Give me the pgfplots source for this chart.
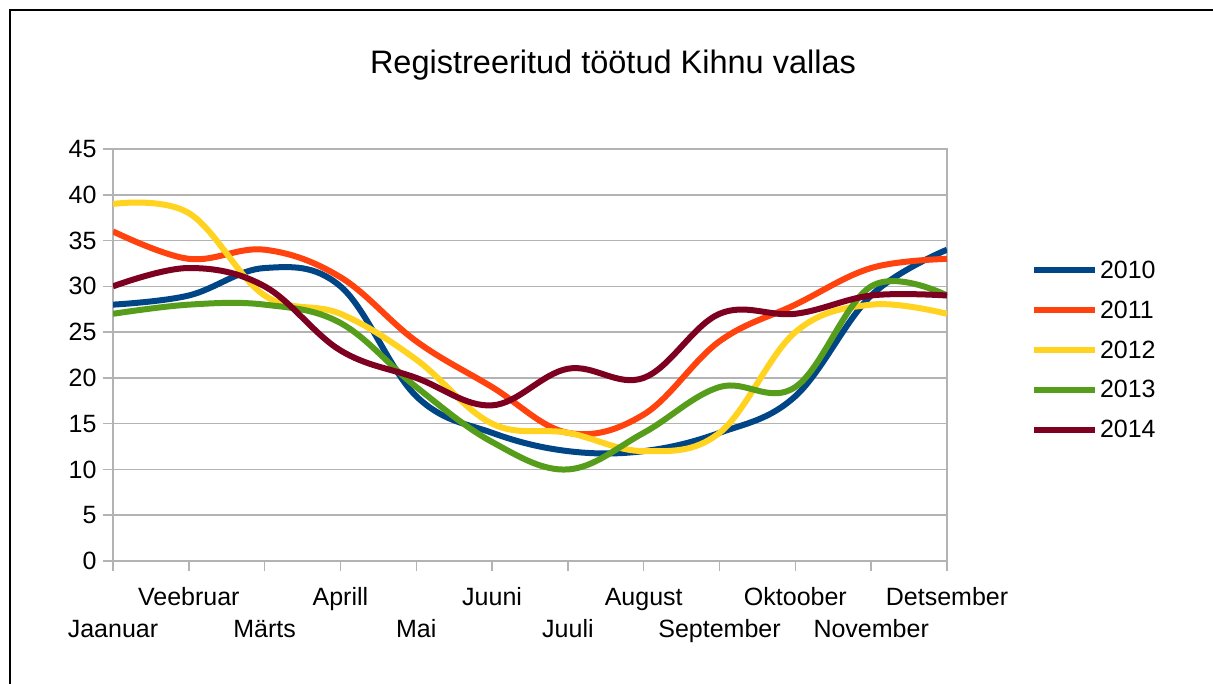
\documentclass[border=0pt]{standalone}
\usepackage{pgfplots}
\pgfplotsset{compat=1.18}
\usepackage{fontspec}
\setmainfont{Liberation Sans}
\definecolor{c2010}{HTML}{004586}
\definecolor{c2011}{HTML}{FF420E}
\definecolor{c2012}{HTML}{FFD320}
\definecolor{c2013}{HTML}{579D1C}
\definecolor{c2014}{HTML}{7E0021}
\definecolor{gridgray}{HTML}{B3B3B3}
\begin{document}
\begin{tikzpicture}
\useasboundingbox (0,0) rectangle (1213pt,684pt);
\fill[white] (0,0) rectangle (1213pt,684pt);
\draw[black, line width=1.5pt] (10pt,0pt) -- (10pt,674pt) -- (1213pt,674pt);
\node[font=\fontsize{32.5}{40}\selectfont] at (613pt,619pt) {Registreeritud töötud Kihnu vallas};
\begin{axis}[
  at={(113pt,123pt)}, anchor=south west,
  scale only axis, width=834pt, height=412pt,
  xmin=0, xmax=11, ymin=0, ymax=45,
  xtick={0,...,11},
  ytick={0,5,...,45},
  xticklabels={
    {\strut\\\strut Jaanuar},{\strut Veebruar\\\strut},
    {\strut\\\strut Märts},{\strut Aprill\\\strut},
    {\strut\\\strut Mai},{\strut Juuni\\\strut},
    {\strut\\\strut Juuli},{\strut August\\\strut},
    {\strut\\\strut September},{\strut Oktoober\\\strut},
    {\strut\\\strut November},{\strut Detsember\\\strut}},
  xticklabel style={align=center, font=\fontsize{25}{32}\selectfont, anchor=north, yshift=-9pt},
  yticklabel style={font=\fontsize{25}{28}\selectfont, xshift=-3pt},
  /pgf/number format/assume math mode=true,
  tick align=outside, major tick length=10pt,
  xtick pos=bottom, ytick pos=left,
  tick style={gridgray, line width=1.5pt},
  axis line style={gridgray, line width=1.5pt},
  ymajorgrids, grid style={gridgray, line width=1.5pt},
  legend style={draw=none, fill=none, font=\fontsize{25}{28}\selectfont,
    at={(1.1005,0.512)}, anchor=west, row sep=17pt, inner sep=0pt,
    cells={anchor=west}},
  legend image code/.code={\draw[#1, line width=6pt] (0pt,0pt) -- (61pt,0pt);},
  every axis plot/.append style={line width=6pt, smooth, tension=0.62},
]
\addplot[c2010] coordinates {(0,28)(1,29)(2,32)(3,30)(4,18)(5,14)(6,12)(7,12)(8,14)(9,18)(10,29)(11,34)};
\addplot[c2011] coordinates {(0,36)(1,33)(2,34)(3,31)(4,24)(5,19)(6,14)(7,16)(8,24)(9,28)(10,32)(11,33)};
\addplot[c2012] coordinates {(0,39)(1,38)(2,29)(3,27)(4,22)(5,15)(6,14)(7,12)(8,14)(9,25)(10,28)(11,27)};
\addplot[c2013] coordinates {(0,27)(1,28)(2,28)(3,26)(4,19)(5,13)(6,10)(7,14)(8,19)(9,19)(10,30)(11,29)};
\addplot[c2014] coordinates {(0,30)(1,32)(2,30)(3,23)(4,20)(5,17)(6,21)(7,20)(8,27)(9,27)(10,29)(11,29)};
\legend{2010,2011,2012,2013,2014}
\end{axis}
\end{tikzpicture}
\end{document}
